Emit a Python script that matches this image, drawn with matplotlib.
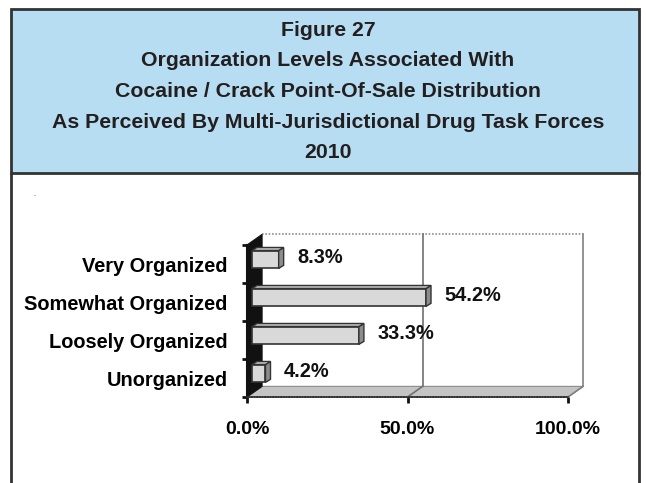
import matplotlib.pyplot as plt
from matplotlib.patches import Polygon, Rectangle

# data
categories = ['Unorganized', 'Loosely Organized', 'Somewhat Organized', 'Very Organized']
values = [4.2, 33.3, 54.2, 8.3]
tick_values = [0, 50, 100]
tick_labels = ['0.0%', '50.0%', '100.0%']
title_lines = ['Figure 27',
               'Organization Levels Associated With',
               'Cocaine / Crack Point-Of-Sale Distribution',
               'As Perceived By Multi-Jurisdictional Drug Task Forces',
               '2010']

plt.rcParams['font.family'] = ['Liberation Sans', 'DejaVu Sans']
plt.rcParams['font.weight'] = 'bold'

W, H = 646, 483
fig = plt.figure(figsize=(W / 100, H / 100), dpi=100)

# background frame, pixel coordinates
bg = fig.add_axes([0, 0, 1, 1])
bg.set_xlim(0, W)
bg.set_ylim(H, 0)
bg.axis('off')
bg.add_patch(Rectangle((11, 9), 628, 164, facecolor='#B7DDF2', edgecolor='#333333', lw=2))
bg.plot([11, 11], [173, H], color='#333333', lw=2)
bg.plot([639, 639], [173, H], color='#333333', lw=2)
for i, line in enumerate(title_lines):
    bg.text(328, 36 + i * 30.5, line, ha='center', va='baseline', fontsize=15.3, fontweight='bold', color='#231F20')
bg.text(34, 196, '.', fontsize=5, color='#555555')

# chart area (front plane)
ax = fig.add_axes([247 / W, (H - 397) / H, 321 / W, 152 / H])
ax.set_xlim(0, 100)
ax.set_ylim(0, 4)
ax.patch.set_alpha(0)

dx, dy = 4.7, 0.28      # depth of the 3D box
bx, by = 1.56, 0.08     # depth of each bar
bar_left = 1.56
bar_h = 0.47

# back wall, floor, left wall
ax.add_patch(Polygon([(dx, dy), (100 + dx, dy), (100 + dx, 4 + dy), (dx, 4 + dy)],
                     closed=True, facecolor='white', edgecolor='none', zorder=0, clip_on=False))
ax.plot([dx, 100 + dx], [4 + dy, 4 + dy], color='#909090', lw=1.2, ls=(0, (1, 1)), zorder=1, clip_on=False)
ax.plot([100 + dx, 100 + dx], [dy, 4 + dy], color='#808080', lw=1.2, zorder=1, clip_on=False)
ax.add_patch(Polygon([(0, 0), (100, 0), (100 + dx, dy), (dx, dy)], closed=True,
                     facecolor='#C4C4C4', edgecolor='#8A8A8A', lw=0.8, zorder=1, clip_on=False))
ax.add_patch(Polygon([(0, 0), (dx, dy), (dx, 4 + dy), (0, 4)], closed=True,
                     facecolor='#111111', edgecolor='#111111', lw=0.8, zorder=2, clip_on=False))
# gridline at 50%
ax.plot([50 + dx, 50 + dx], [dy, 4 + dy], color='#707070', lw=1.2, zorder=1, clip_on=False)
ax.plot([50, 50 + dx], [0, dy], color='#707070', lw=1.2, zorder=2, clip_on=False)
ax.plot([100, 100 + dx], [0, dy], color='#808080', lw=1.2, zorder=2, clip_on=False)

# bars
ypos = [i + 0.5 + 0.12 for i in range(len(categories))]
ax.barh(ypos, values, left=bar_left, height=bar_h, color='#D9D9D9',
        edgecolor='#333333', lw=1.2, zorder=5)
for y, v in zip(ypos, values):
    x1 = bar_left + v
    y0, y1 = y - bar_h / 2, y + bar_h / 2
    ax.add_patch(Polygon([(x1, y0), (x1 + bx, y0 + by), (x1 + bx, y1 + by), (x1, y1)], closed=True,
                         facecolor='#8C8C8C', edgecolor='#333333', lw=1.0, zorder=5))
    ax.add_patch(Polygon([(bar_left, y1), (bar_left + bx, y1 + by), (x1 + bx, y1 + by), (x1, y1)], closed=True,
                         facecolor='#BFBFBF', edgecolor='#333333', lw=1.0, zorder=5))
    ax.text(v + 7.4, y + 0.05, f'{v}%', ha='left', va='center', fontsize=14.4, fontweight='bold', color='#111111')

# axes styling
for s in ['top', 'right']:
    ax.spines[s].set_visible(False)
ax.spines['left'].set_color('#111111')
ax.spines['left'].set_linewidth(1.5)
ax.spines['bottom'].set_color('#333333')
ax.spines['bottom'].set_linewidth(1.2)
ax.spines['bottom'].set_linestyle((0, (1, 0.6)))

ax.set_xticks(tick_values)
ax.set_xticklabels(tick_labels, fontsize=14, fontweight='bold')
ax.tick_params(axis='x', direction='out', length=4.5, width=2, color='#111111', pad=13)
ax.set_yticks([0, 1, 2, 3, 4])
ax.set_yticklabels([])
ax.tick_params(axis='y', which='major', direction='out', length=3.7, width=2, color='#111111')
ax.set_yticks([i + 0.5 for i in range(len(categories))], minor=True)
ax.set_yticklabels(categories, minor=True, fontsize=14.4, fontweight='bold')
ax.tick_params(axis='y', which='minor', length=0, pad=14)

fig.savefig('out.png', dpi=100)
